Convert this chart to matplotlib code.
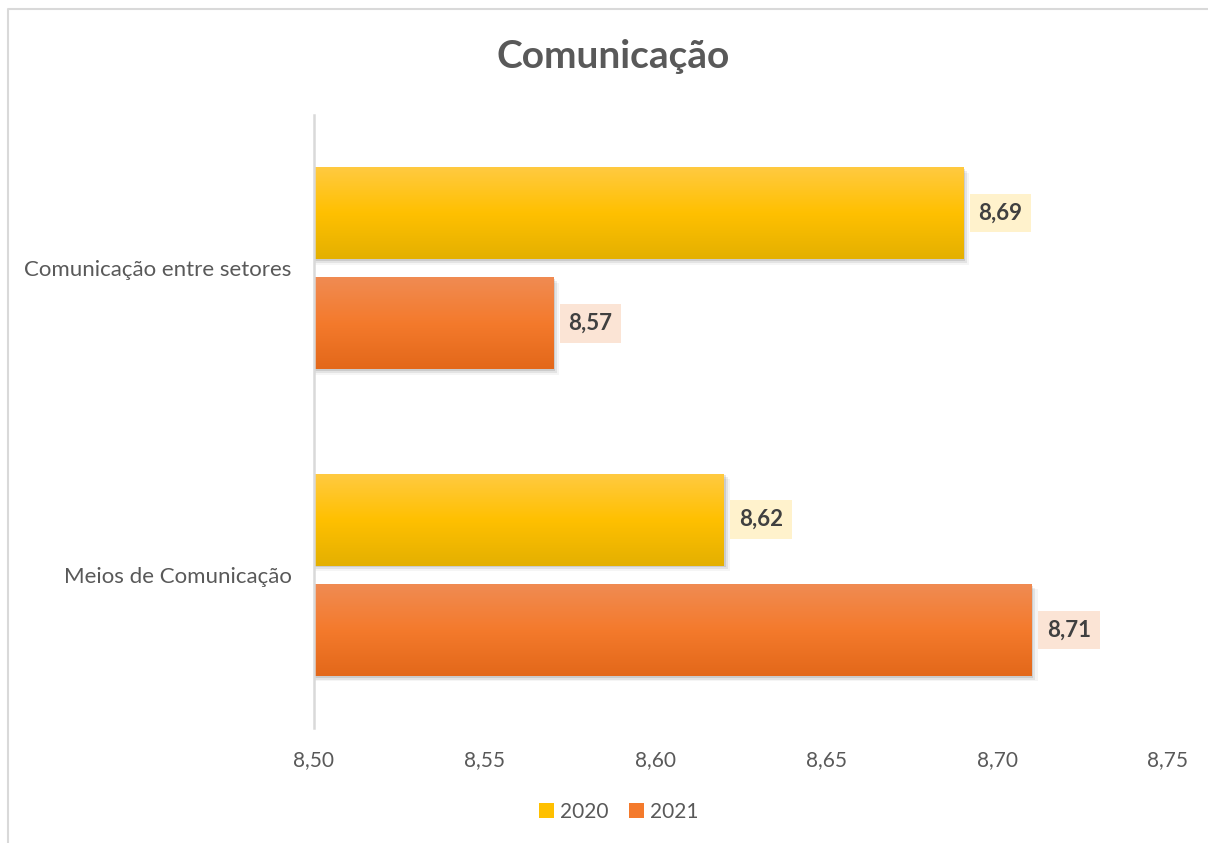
#!/usr/bin/env python3
"""
Horizontal bar chart: Comunicação (2020 vs 2021).
"""

import matplotlib.pyplot as plt
import matplotlib.colors as mcolors
from matplotlib.patches import Patch, Rectangle
from matplotlib.lines import Line2D
from matplotlib.ticker import FuncFormatter
import numpy as np

plt.rcParams['font.family'] = ['Lato', 'DejaVu Sans']

categories = ['Meios de Comunicação', 'Comunicação entre setores']
series_names = ['2020', '2021']
values_2020 = [8.62, 8.69]
values_2021 = [8.71, 8.57]
x_ticks = [8.50, 8.55, 8.60, 8.65, 8.70, 8.75]

# gradient stops (top, middle, bottom) per series
grad_colors = {
    '2020': ['#FFCA40', '#FFC000', '#E4B000'],
    '2021': ['#F08B52', '#F47A2C', '#E3681A'],
}
label_bg = {'2020': '#FFF2CC', '2021': '#FBE4D5'}
base_x = 8.50

fig = plt.figure(figsize=(12.08, 8.43), dpi=100)
ax = fig.add_axes([314 / 1208, 1 - 728 / 843, 854 / 1208, 613 / 843])

bar_h = 0.30
offset = 0.18


def gradient_bar(ax, y, value, colors):
    cmap = mcolors.LinearSegmentedColormap.from_list('g', colors[::-1])
    grad = np.linspace(0, 1, 64).reshape(-1, 1)
    y0, y1 = y - bar_h / 2, y + bar_h / 2
    # soft shadow under/right of the bar
    for i, a in enumerate([0.10, 0.07, 0.04]):
        dx = 0.0006 * (i + 1)
        dy = 0.006 * (i + 1)
        ax.add_patch(Rectangle((base_x, y0 - dy), value - base_x + dx, bar_h,
                               facecolor='black', alpha=a, linewidth=0, zorder=1))
    ax.imshow(grad, extent=[base_x, value, y0, y1], aspect='auto', cmap=cmap,
              origin='lower', interpolation='bicubic', zorder=2)


for name, vals, sign in [('2020', values_2020, 1), ('2021', values_2021, -1)]:
    for i, v in enumerate(vals):
        y = i + 0.5 + sign * offset
        gradient_bar(ax, y, v, grad_colors[name])
        ax.text(v + 0.0045, y, f'{v:.2f}'.replace('.', ','), ha='left', va='center',
                fontsize=16, fontweight='bold', color='#404040', zorder=4,
                bbox=dict(boxstyle='square,pad=0.4', facecolor=label_bg[name],
                          edgecolor='none'))

ax.set_xlim(8.50, 8.75)
ax.set_ylim(0, 2)
ax.set_xticks(x_ticks)
ax.xaxis.set_major_formatter(FuncFormatter(lambda v, p: f'{v:.2f}'.replace('.', ',')))
ax.set_yticks([0.5, 1.5])
ax.set_yticklabels(categories)
ax.tick_params(axis='x', length=0, pad=16, labelsize=15, labelcolor='#595959')
ax.tick_params(axis='y', length=0, pad=16, labelsize=16, labelcolor='#595959')
for s in ['top', 'right', 'bottom']:
    ax.spines[s].set_visible(False)
ax.spines['left'].set_color('#D9D9D9')
ax.spines['left'].set_linewidth(1.8)
ax.set_zorder(1)

fig.text(0.5075, 1 - 57 / 843, 'Comunicação', ha='center', va='center',
         fontsize=28, fontweight='bold', color='#595959')

handles = [Patch(facecolor=grad_colors[n][1], edgecolor='none') for n in series_names]
fig.legend(handles, series_names, loc='center', bbox_to_anchor=(619 / 1208, 1 - 812 / 843),
           ncol=2, frameon=False, fontsize=15, handlelength=0.7, handleheight=0.7,
           handletextpad=0.3, columnspacing=1.0, labelcolor='#595959')

# chart outer border (left and top edges visible)
bx, by = 8 / 1208, 1 - 9 / 843
fig.add_artist(Line2D([bx, bx, 1.0], [0.0, by, by], transform=fig.transFigure,
                      color='#D9D9D9', linewidth=1.5))

fig.savefig('out.png', dpi=100)
